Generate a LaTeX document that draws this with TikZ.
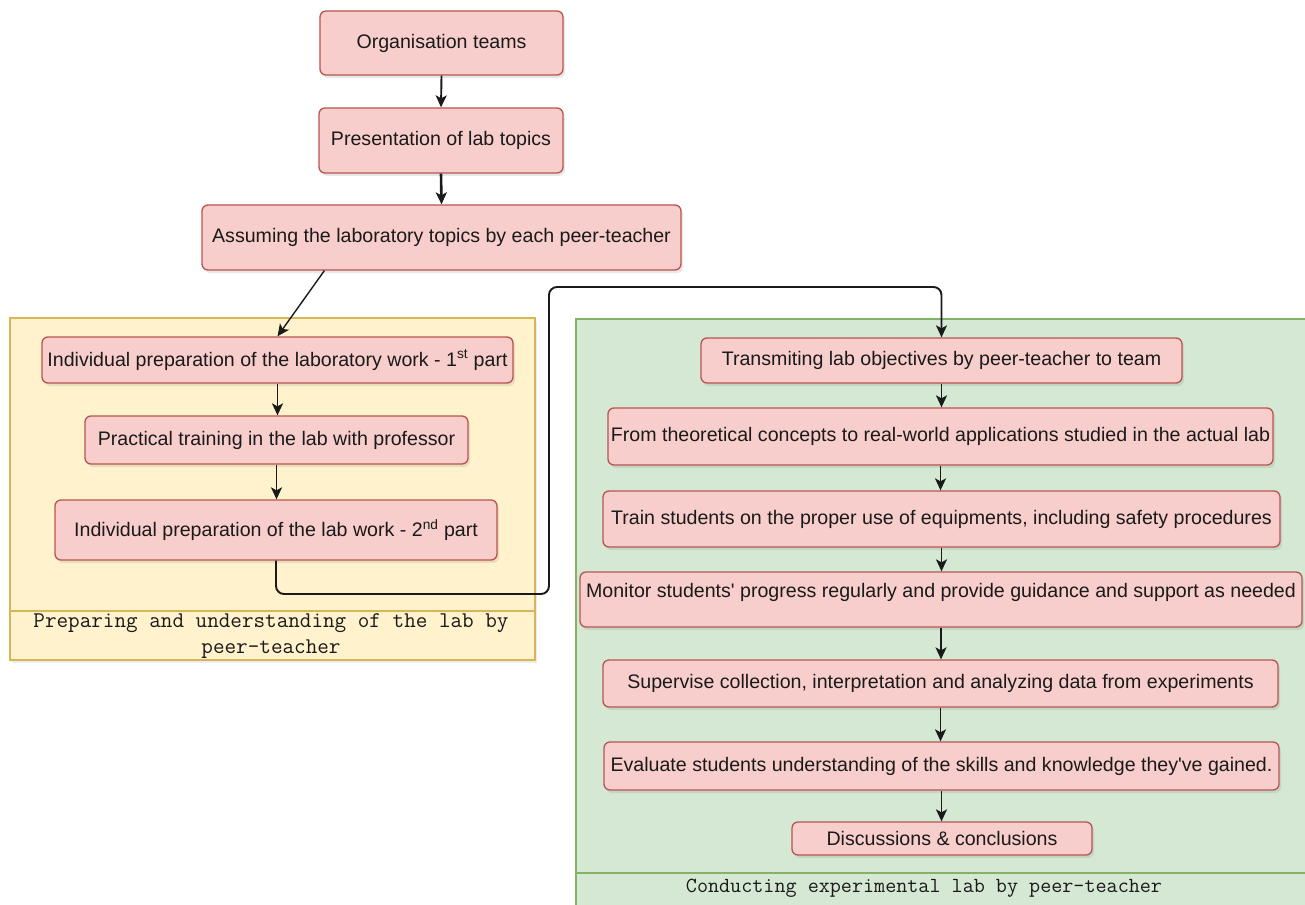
\documentclass[tikz,border=0pt]{standalone}
\usepackage{fontspec}
\setmainfont{Liberation Sans}
\usetikzlibrary{arrows.meta,shadows}
\definecolor{pinkfill}{HTML}{F8CECC}
\definecolor{pinkline}{HTML}{B85450}
\definecolor{yelfill}{HTML}{FFF2CC}
\definecolor{yelline}{HTML}{D6B656}
\definecolor{grnfill}{HTML}{D5E8D4}
\definecolor{grnline}{HTML}{82B366}
\definecolor{txt}{HTML}{1A1A1A}
\tikzset{
  stepbox/.style={draw=pinkline, fill=pinkfill, rounded corners=6pt, line width=1.3pt,
    inner sep=0pt, text=txt, font=\fontsize{19.6}{23}\selectfont,
    drop shadow={opacity=0.18, shadow xshift=2pt, shadow yshift=-3pt}},
  container/.style={draw, line width=1.3pt, inner sep=0pt},
  conn/.style={line width=1.9pt, draw=txt, -{Stealth[length=12pt,width=11pt,inset=3pt]}},
  monotxt/.style={text=txt, align=center, inner sep=0pt},
}
\begin{document}
\begin{tikzpicture}[x=1pt,y=-1pt]
\useasboundingbox (0,0) rectangle (1305,904);
\clip (0,0) rectangle (1305,904);
\fill[white] (0,0) rectangle (1305,904);

% containers
\node[container, draw=yelline, fill=yelfill, minimum width=525pt, minimum height=342pt,
  drop shadow={opacity=0.15, shadow xshift=2pt, shadow yshift=-3pt}] (ybox) at (272.5,489) {};
\node[container, draw=grnline, fill=grnfill, minimum width=736pt, minimum height=591pt] (gbox) at (944,614.5) {};
\draw[yelline, line width=1.3pt] (ybox.west |- 0,611) -- (ybox.east |- 0,611);
\draw[grnline, line width=1.3pt] (gbox.west |- 0,873) -- (1305,873);
\node[monotxt, font=\ttfamily\fontsize{22.5}{26}\selectfont] (ylabel) at (271,636) {Preparing and understanding of the lab by\\peer-teacher};
\node[monotxt, font=\ttfamily\fontsize{21.5}{26}\selectfont] (glabel) at (924,888) {Conducting experimental lab by peer-teacher};

% top boxes
\node[stepbox, minimum width=243pt, minimum height=64pt] (org) at (441.5,43) {Organisation teams};
\node[stepbox, minimum width=244pt, minimum height=65pt] (pres) at (441,140.5) {Presentation of lab topics};
\node[stepbox, minimum width=479pt, minimum height=65pt] (assume) at (441.5,237.5) {Assuming the laboratory topics by each peer-teacher};

% left boxes
\node[stepbox, minimum width=471pt, minimum height=46pt] (ind1) at (277.5,360) {Individual preparation of the laboratory work - 1\textsuperscript{st} part};
\node[stepbox, minimum width=383pt, minimum height=48pt] (prac) at (276.5,440) {Practical training in the lab with professor};
\node[stepbox, minimum width=442pt, minimum height=60pt] (ind2) at (276,530) {Individual preparation of the lab work - 2\textsuperscript{nd} part};

% right boxes
\node[stepbox, minimum width=481pt, minimum height=45pt] (trans) at (941.5,360.5) {Transmiting lab objectives by peer-teacher to team};
\node[stepbox, minimum width=665pt, minimum height=57pt] (theo) at (940.5,436.5) {From theoretical concepts to real-world applications studied in the actual lab};
\node[stepbox, minimum width=677pt, minimum height=56pt] (train) at (941.5,519) {Train students on the proper use of equipments, including safety procedures};
\node[stepbox, minimum width=722pt, minimum height=55pt, text height=25.5pt, text depth=29.5pt] (monitor) at (941,599.5) {Monitor students\textquotesingle\ progress regularly and provide guidance and support as needed};
\node[stepbox, minimum width=675pt, minimum height=47pt] (superv) at (940.5,683.5) {Supervise collection, interpretation and analyzing data from experiments};
\node[stepbox, minimum width=675pt, minimum height=48pt] (eval) at (941.5,766) {Evaluate students understanding of the skills and knowledge they\textquotesingle ve gained.};
\node[stepbox, minimum width=300pt, minimum height=33pt] (disc) at (942,838.5) {Discussions \& conclusions};

% connectors
\draw[conn] (org.south) -- (pres.north);
\draw[conn, line width=2.6pt] (pres.south) -- (assume.north);
\draw[conn, line width=1.4pt] ([xshift=123pt]assume.south west) -- (ind1.north);
\draw[conn] (ind1.south) -- (ind1.south |- prac.north);
\draw[conn] (prac.south) -- (prac.south |- ind2.north);
\coordinate (c1) at (549,594);
\coordinate (c2) at (549,287);
\draw[conn, rounded corners=8pt] (ind2.south) |- (c1) -- (c2) -| (trans.north);
\draw[conn] (trans.south) -- (trans.south |- theo.north);
\draw[conn] (theo.south) -- (theo.south |- train.north);
\draw[conn] (train.south) -- (train.south |- monitor.north);
\draw[conn] (monitor.south) -- (monitor.south |- superv.north);
\draw[conn] (superv.south) -- (superv.south |- eval.north);
\draw[conn] (eval.south) -- (eval.south |- disc.north);
\end{tikzpicture}
\end{document}
